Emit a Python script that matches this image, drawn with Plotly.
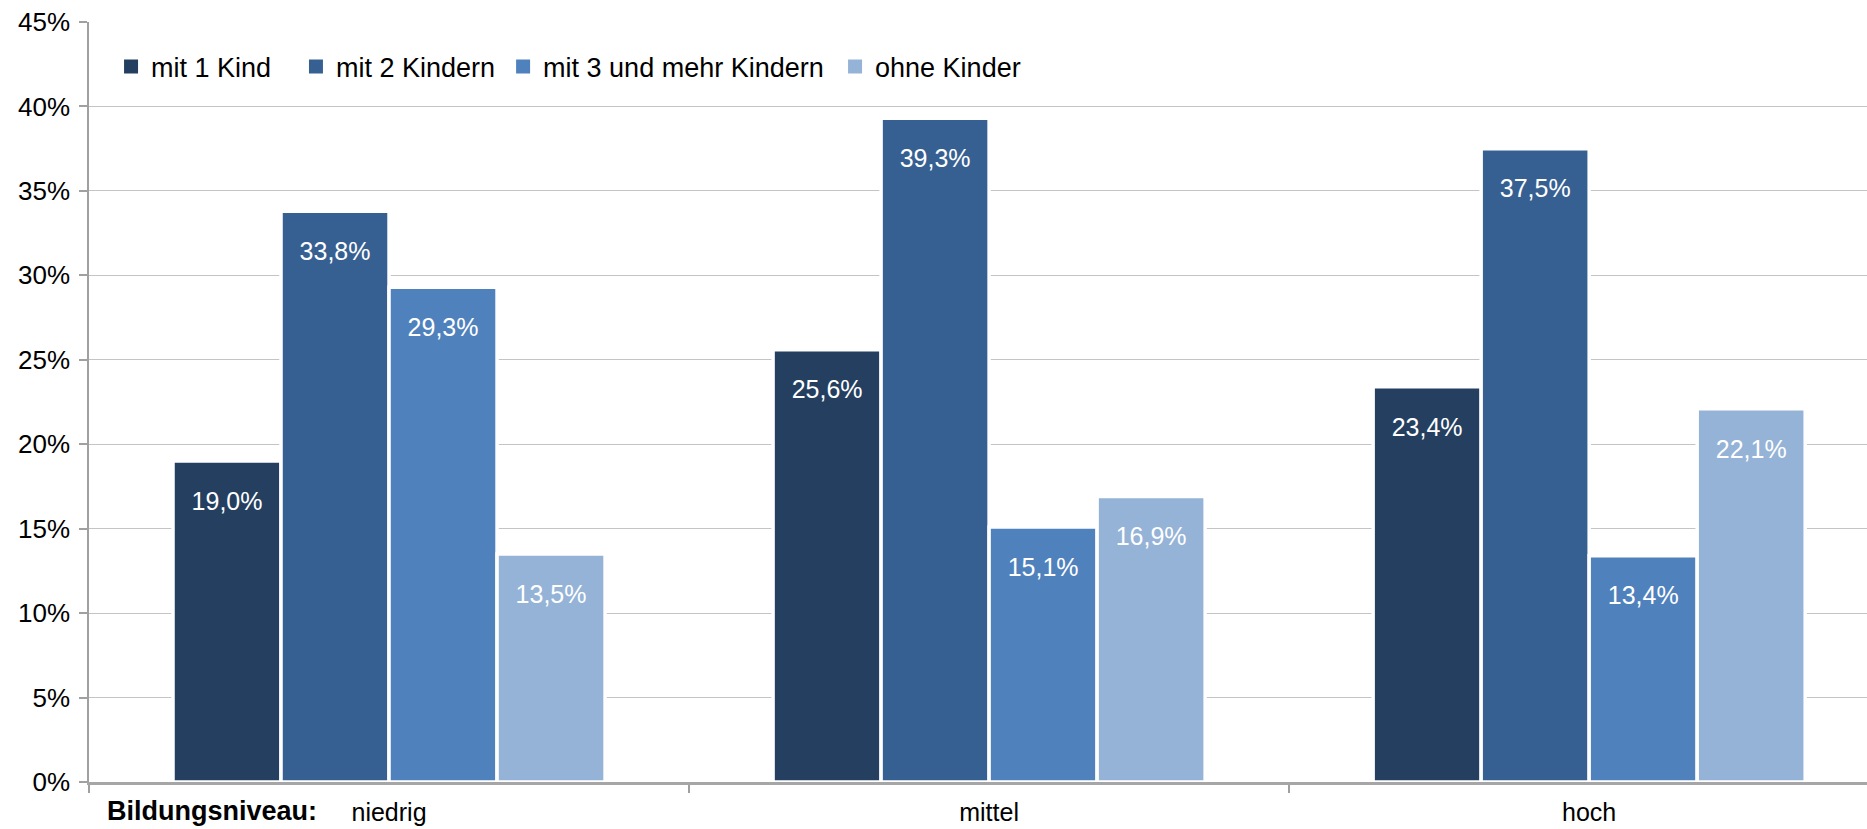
import plotly.graph_objects as go

categories = ["niedrig", "mittel", "hoch"]
series_names = ["mit 1 Kind", "mit 2 Kindern", "mit 3 und mehr Kindern", "ohne Kinder"]
mit_1_kind = [19.0, 25.6, 23.4]
mit_2_kindern = [33.8, 39.3, 37.5]
mit_3_kindern = [29.3, 15.1, 13.4]
ohne_kinder = [13.5, 16.9, 22.1]
series_values = [mit_1_kind, mit_2_kindern, mit_3_kindern, ohne_kinder]
colors = ["#253F60", "#376092", "#4F81BD", "#95B3D7"]
y_ticks = [0, 5, 10, 15, 20, 25, 30, 35, 40, 45]
y_tick_labels = [f"{v}%" for v in y_ticks]

FONT = "Liberation Sans, Arial, sans-serif"
LABEL_DROP = 1.35          # data labels sit a little below the bar top
legend_x = [0.0124, 0.1164, 0.2329, 0.4196]   # paper x of each legend entry

fig = go.Figure()
for i, (name, vals, col) in enumerate(zip(series_names, series_values, colors)):
    grp = f"g{i}"
    # visible bar with white outline
    fig.add_trace(go.Bar(
        x=categories, y=vals, offsetgroup=grp, showlegend=False,
        marker=dict(color=col, line=dict(color="white", width=3.5)),
        hoverinfo="skip",
    ))
    # transparent carrier for the value labels
    fig.add_trace(go.Bar(
        x=categories, y=[v - LABEL_DROP for v in vals], offsetgroup=grp, showlegend=False,
        marker=dict(color="rgba(0,0,0,0)", line=dict(width=0)),
        text=[f"{v:.1f}%".replace(".", ",") for v in vals],
        textposition="inside", insidetextanchor="end", textangle=0,
        textfont=dict(color="white", size=25, family=FONT),
        hoverinfo="skip",
    ))
    # legend entry
    fig.add_trace(go.Bar(
        name=name, x=categories, y=[None] * len(categories), offsetgroup=grp,
        marker=dict(color=col, line=dict(color=col, width=2)),
        showlegend=True, legend="legend" if i == 0 else f"legend{i+1}",
        hoverinfo="skip",
    ))

legend_common = dict(
    orientation="h", xanchor="left", y=0.941, yanchor="middle",
    font=dict(size=27, family=FONT, color="black"),
    bgcolor="rgba(0,0,0,0)", itemclick=False, itemdoubleclick=False,
)
layout_legends = {}
for i, lx in enumerate(legend_x):
    key = "legend" if i == 0 else f"legend{i+1}"
    layout_legends[key] = dict(legend_common, x=lx)

fig.update_layout(
    width=1867, height=829,
    margin=dict(l=89, r=0, t=22, b=47),
    paper_bgcolor="white", plot_bgcolor="white",
    barmode="group", bargap=0.28, bargroupgap=0,
    font=dict(family=FONT, size=25, color="black"),
    showlegend=True,
    uniformtext=dict(mode="show", minsize=10),
    **layout_legends,
)
fig.update_yaxes(
    range=[0, 45], tickvals=y_ticks, ticktext=y_tick_labels,
    showgrid=True, gridcolor="#C4C4C4", gridwidth=1.3,
    showline=True, linecolor="#A0A0A0", linewidth=1.5,
    ticks="outside", ticklen=8, tickcolor="#A0A0A0", tickwidth=1.5,
    tickfont=dict(size=26, family=FONT, color="black"),
    ticklabelstandoff=4, zeroline=False, layer="above traces",
)
fig.update_xaxes(
    range=[-0.5, 2.463], tickson="boundaries",
    ticks="outside", ticklen=8, tickcolor="#A0A0A0", tickwidth=1.5,
    showline=True, linecolor="#A6A6A6", linewidth=2.5,
    showgrid=False, tickfont=dict(size=25, family=FONT, color="black"),
    ticklabelstandoff=6,
)
fig.add_annotation(
    text="<b>Bildungsniveau:</b>", xref="paper", yref="paper",
    x=0.1294, xanchor="right", y=-0.0605, yanchor="bottom", showarrow=False,
    font=dict(size=27, family=FONT, color="black"),
)
fig.write_html("out.html")
